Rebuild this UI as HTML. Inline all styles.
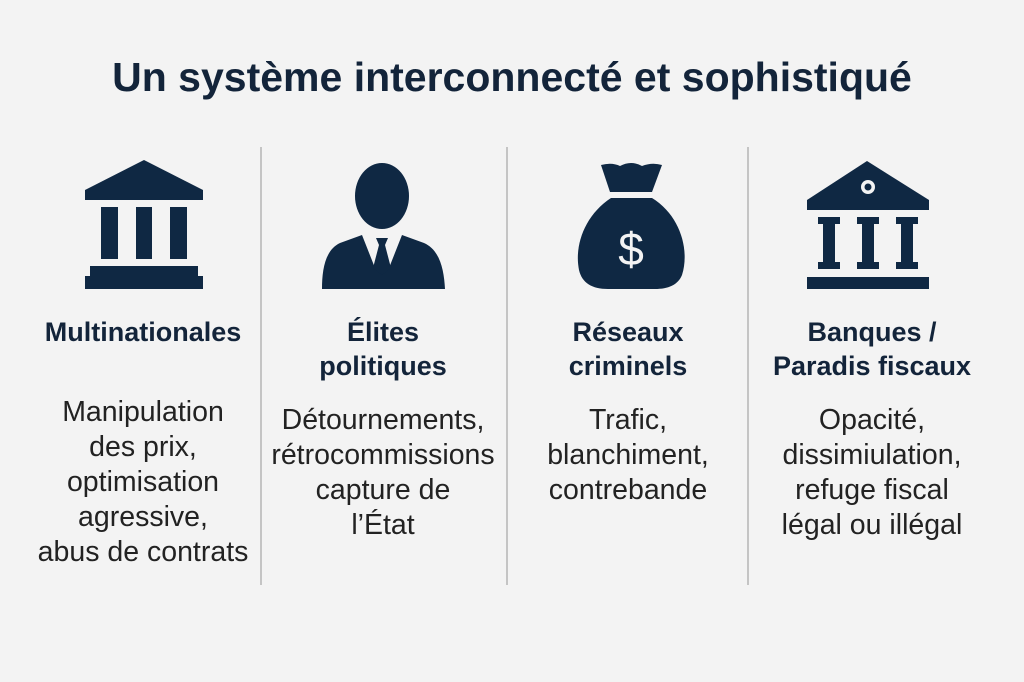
<!DOCTYPE html>
<html><head><meta charset="utf-8"><style>
body{margin:0;width:1024px;height:682px;background:#f3f3f3;font-family:"Liberation Sans",sans-serif;position:relative;overflow:hidden}
.t{position:absolute;left:0;width:1024px;text-align:center;top:54px;font-size:41px;font-weight:bold;color:#13243a}
.c{position:absolute;text-align:center;width:250px;white-space:nowrap}
.h{font-weight:bold;font-size:27px;color:#13243a;line-height:34px}
.b{font-size:28.5px;color:#222;line-height:35px}
.d{position:absolute;top:147px;width:2px;height:438px;background:#c4c4c4}
</style></head><body>
<div class="t">Un système interconnecté et sophistiqué</div>
<div class="d" style="left:260px"></div><div class="d" style="left:506px"></div><div class="d" style="left:747px"></div>
<svg width="1024" height="682" style="position:absolute;left:0;top:0" fill="#0f2843">
<polygon points="85,190 144,160 203,190 203,200 85,200"/>
<rect x="101" y="207" width="17" height="52"/><rect x="136" y="207" width="16" height="52"/><rect x="170" y="207" width="17" height="52"/>
<rect x="90" y="266" width="108" height="12"/><rect x="85" y="276" width="118" height="13"/>
<ellipse cx="382" cy="196" rx="27" ry="33"/>
<path d="M322,289 C322,270 325,250 340,243 L362,235 L375,268 L382,241 L389,268 L402,235 L424,243 C440,250 444,270 445,289 Z"/>
<polygon points="376,238 388,238 385,245 391,268 382,275 373,268 379,245" fill="#0f2843"/>
<path d="M601,165 Q612,162 620,166 Q631,160 642,166 Q652,162 662,165 L652,192 L610,192 Z"/>
<path d="M611,198 L652,198 C680,215 690,250 682,275 C678,285 668,289 655,289 L608,289 C592,289 582,283 579,270 C574,245 585,215 611,198 Z"/>
<text x="631" y="265" font-size="46" fill="#f3f3f3" text-anchor="middle" font-family="Liberation Sans">$</text>
<polygon points="807,200 867,161 929,200 929,210 807,210"/>
<circle cx="868" cy="187" r="7" fill="#f3f3f3"/><circle cx="868" cy="187" r="3.5"/>
<g><rect x="818" y="217" width="22" height="7"/><rect x="823" y="224" width="12" height="38"/><rect x="818" y="262" width="22" height="7"/></g>
<g><rect x="857" y="217" width="22" height="7"/><rect x="862" y="224" width="12" height="38"/><rect x="857" y="262" width="22" height="7"/></g>
<g><rect x="896" y="217" width="22" height="7"/><rect x="901" y="224" width="12" height="38"/><rect x="896" y="262" width="22" height="7"/></g>
<rect x="807" y="277" width="122" height="12"/>
</svg>
<div class="c" style="left:18px;top:315px"><div class="h">Multinationales</div></div>
<div class="c" style="left:18px;top:395px"><div class="b">Manipulation<br>des prix,<br>optimisation<br>agressive,<br>abus de contrats</div></div>
<div class="c" style="left:258px;top:315px"><div class="h">Élites<br>politiques</div></div>
<div class="c" style="left:258px;top:403px"><div class="b">Détournements,<br>rétrocommissions<br>capture de<br>l’État</div></div>
<div class="c" style="left:503px;top:315px"><div class="h">Réseaux<br>criminels</div></div>
<div class="c" style="left:503px;top:403px"><div class="b">Trafic,<br>blanchiment,<br>contrebande</div></div>
<div class="c" style="left:747px;top:315px"><div class="h">Banques /<br>Paradis fiscaux</div></div>
<div class="c" style="left:747px;top:403px"><div class="b">Opacité,<br>dissimiulation,<br>refuge fiscal<br>légal ou illégal</div></div>
</body></html>
